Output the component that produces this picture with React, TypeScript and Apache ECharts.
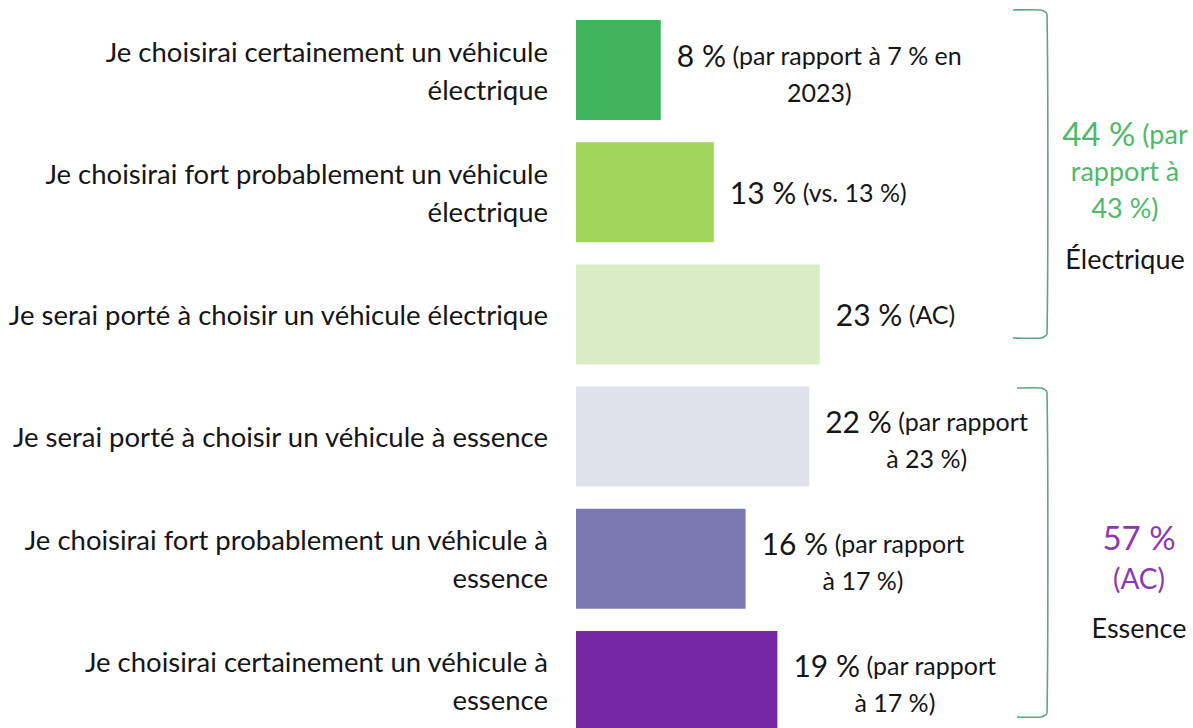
import React, { useEffect, useRef } from "react";
import * as echarts from "echarts";

const categories: string[] = [
  "Je choisirai certainement un véhicule\nélectrique",
  "Je choisirai fort probablement un véhicule\nélectrique",
  "Je serai porté à choisir un véhicule électrique",
  "Je serai porté à choisir un véhicule à essence",
  "Je choisirai fort probablement un véhicule à\nessence",
  "Je choisirai certainement un véhicule à\nessence",
];
const values: number[] = [8, 13, 23, 22, 16, 19];
const notes: string[] = [
  "(par rapport à 7 % en\n2023)",
  "(vs. 13 %)",
  "(AC)",
  "(par rapport\nà 23 %)",
  "(par rapport\nà 17 %)",
  "(par rapport\nà 17 %)",
];
const barColors: string[] = ["#41b55b", "#a1d55a", "#d9edc4", "#e1e1ec", "#7b79b1", "#7628a3"];

const groupElectricTotal = "44 %";
const groupElectricNote = ["(par", "rapport à", "43 %)"];
const groupElectricName = "Électrique";
const groupGasTotal = "57 %";
const groupGasNote = ["(AC)"];
const groupGasName = "Essence";

const FONT = "Lato, 'Open Sans', sans-serif";
const INK = "#161616";
const GREEN = "#4fb96a";
const PURPLE = "#8a38b6";
const BRACKET = "#5fa582";

function bracket(top: number, bottom: number, xr: number, xl: number) {
  return {
    type: "polyline",
    shape: {
      points: [
        [xl, top],
        [xr - 6, top],
        [xr, top + 4],
        [xr, bottom - 4],
        [xr - 6, bottom],
        [xl, bottom],
      ],
      smooth: 0.2,
    },
    style: { stroke: BRACKET, lineWidth: 1.6, fill: "none" },
  };
}

export default function App() {
  const ref = useRef<HTMLDivElement>(null);
  useEffect(() => {
    document.body.style.margin = "0";
    const chart = echarts.init(ref.current!, null, { renderer: "svg" });
    const labelText = (i: number) => {
      const lines = notes[i].split("\n");
      let s = `{b|${values[i]} %}{s| ${lines[0]}}`;
      for (let k = 1; k < lines.length; k++) s += `\n{s|${lines[k]}}`;
      return s;
    };
    chart.setOption({
      animation: false,
      backgroundColor: "#ffffff",
      grid: {
        left: 576,
        top: 9,
        width: 530,
        height: 733,
        containLabel: false,
        outerBoundsMode: "none",
      },
      xAxis: { type: "value", min: 0, max: 50, show: false },
      yAxis: {
        type: "category",
        inverse: true,
        data: categories,
        axisLine: { show: false },
        axisTick: { show: false },
        splitLine: { show: false },
        axisLabel: {
          margin: 28,
          align: "right",
          color: INK,
          fontFamily: FONT,
          fontSize: 27.5,
          lineHeight: 38,
        },
      },
      series: [
        {
          type: "bar",
          barWidth: 100,
          data: values.map((v, i) => ({
            value: v,
            itemStyle: { color: barColors[i] },
            label: { offset: [0, notes[i].includes("\n") ? 3 : 0] },
          })),
          label: {
            show: true,
            position: "right",
            distance: 16,
            formatter: (p: any) => labelText(p.dataIndex),
            rich: {
              b: { fontFamily: FONT, fontSize: 30, color: INK, lineHeight: 37, align: "center" },
              s: { fontFamily: FONT, fontSize: 25, color: INK, lineHeight: 37, align: "center" },
            },
          },
        },
      ],
      graphic: [
        bracket(10, 338, 1047, 1013),
        bracket(388, 717, 1047, 1017),
        {
          type: "text",
          x: 1125,
          y: 170,
          style: {
            text: `{g|${groupElectricTotal}}{gs| ${groupElectricNote[0]}}\n{gs|${groupElectricNote[1]}}\n{gs|${groupElectricNote[2]}}`,
            align: "center",
            verticalAlign: "middle",
            rich: {
              g: { fontFamily: FONT, fontSize: 33, fill: GREEN, lineHeight: 38, align: "center" },
              gs: { fontFamily: FONT, fontSize: 27, fill: GREEN, lineHeight: 37, align: "center" },
            },
          },
        },
        {
          type: "text",
          x: 1125,
          y: 258,
          style: {
            text: groupElectricName,
            align: "center",
            verticalAlign: "middle",
            fontFamily: FONT,
            fontSize: 27,
            fill: INK,
          },
        },
        {
          type: "text",
          x: 1139,
          y: 557,
          style: {
            text: `{g|${groupGasTotal}}\n{gs|${groupGasNote[0]}}`,
            align: "center",
            verticalAlign: "middle",
            rich: {
              g: { fontFamily: FONT, fontSize: 33, fill: PURPLE, lineHeight: 41, align: "center" },
              gs: { fontFamily: FONT, fontSize: 28, fill: PURPLE, lineHeight: 41, align: "center" },
            },
          },
        },
        {
          type: "text",
          x: 1139,
          y: 627,
          style: {
            text: groupGasName,
            align: "center",
            verticalAlign: "middle",
            fontFamily: FONT,
            fontSize: 27,
            fill: INK,
          },
        },
      ],
    });
    return () => chart.dispose();
  }, []);
  return (
    <div
      ref={ref}
      style={{ position: "absolute", left: 0, top: 0, width: 1193, height: 728 }}
    />
  );
}
